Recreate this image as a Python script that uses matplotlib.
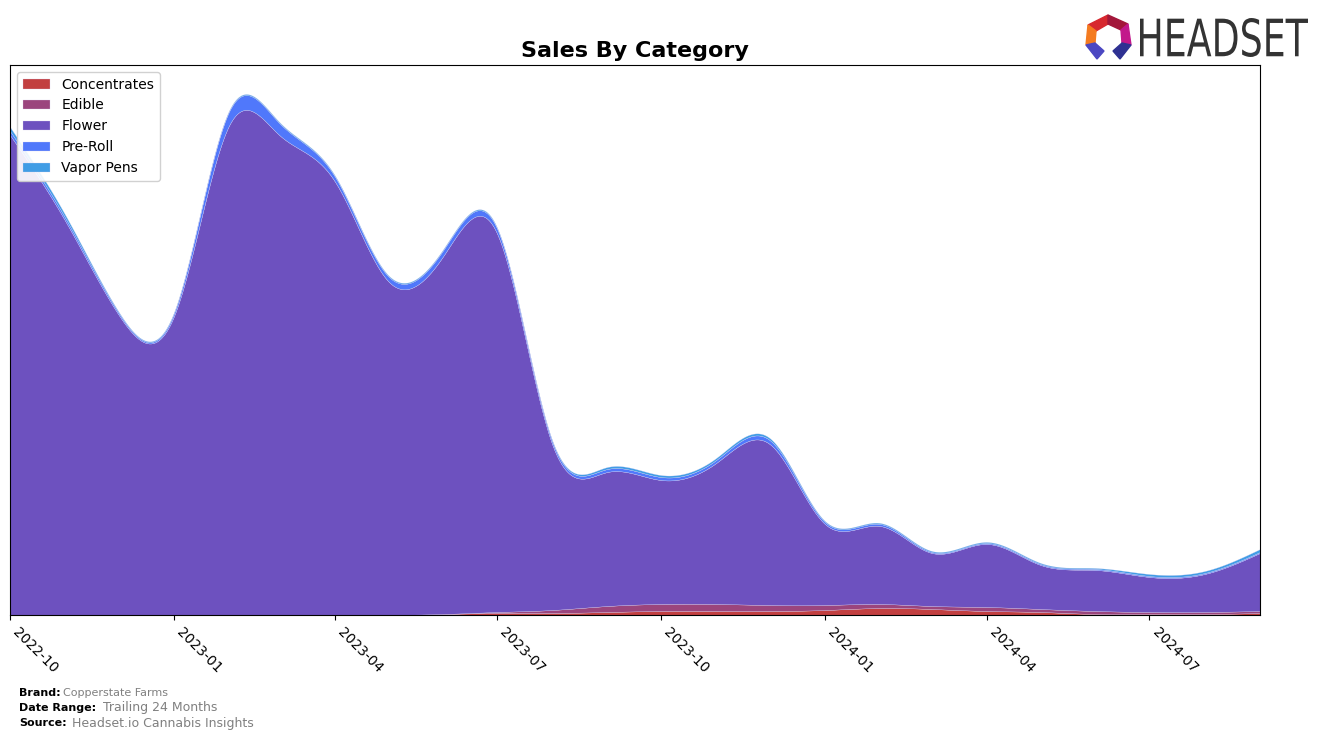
import numpy as np
import pandas as pd
import matplotlib
matplotlib.use("Agg")
import matplotlib.pyplot as plt
import matplotlib.dates as mdates
from matplotlib.patches import Polygon, PathPatch
from matplotlib.textpath import TextPath
from matplotlib.font_manager import FontProperties
from matplotlib.transforms import Affine2D

# monthly sales, Copperstate Farms ($)
months = pd.date_range("2022-10-01", "2024-09-01", freq="MS")
categories = ["Concentrates", "Edible", "Flower", "Pre-Roll", "Vapor Pens"]
colors = ["#C0393A", "#983F79", "#684BBD", "#4A74FB", "#3A9AE5"]

concentrates = [0, 0, 0, 0, 0, 0, 0, 0, 100, 200, 200, 300, 400, 400, 400,
                500, 700, 600, 400, 300, 100, 100, 100, 200]
edible = [0, 0, 0, 0, 0, 0, 0, 0, 0, 100, 300, 600, 700, 700, 600,
          500, 400, 300, 400, 300, 300, 200, 200, 200]
total = [48800, 40000, 30300, 30300, 50500, 49300, 44000, 34000, 36600, 38800,
         17500, 14800, 14000, 15700, 17700, 9400, 9200, 6400, 7300, 5200,
         4700, 4100, 4400, 6600]
pre_roll = [400, 300, 200, 300, 1400, 1200, 500, 500, 600, 500, 300, 300,
            300, 300, 400, 200, 200, 100, 100, 100, 100, 100, 100, 100]
vapor_pens = [400, 300, 100, 100, 100, 100, 100, 100, 100, 100, 100, 200,
              200, 200, 200, 100, 100, 100, 100, 100, 100, 200, 200, 300]
flower = [t - c - e - p - v for t, c, e, p, v in
          zip(total, concentrates, edible, pre_roll, vapor_pens)]


def spline(x, y, xs):
    # natural cubic spline, just for a smooth look between the monthly points
    x = np.asarray(x, float)
    y = np.asarray(y, float)
    n = len(x)
    h = np.diff(x)
    A = np.zeros((n, n))
    b = np.zeros(n)
    A[0, 0] = A[-1, -1] = 1
    for i in range(1, n - 1):
        A[i, i - 1] = h[i - 1]
        A[i, i] = 2 * (h[i - 1] + h[i])
        A[i, i + 1] = h[i]
        b[i] = 3 * ((y[i + 1] - y[i]) / h[i] - (y[i] - y[i - 1]) / h[i - 1])
    c = np.linalg.solve(A, b)
    idx = np.clip(np.searchsorted(x, xs) - 1, 0, n - 2)
    dx = xs - x[idx]
    bb = (y[idx + 1] - y[idx]) / h[idx] - h[idx] * (2 * c[idx] + c[idx + 1]) / 3
    d = (c[idx + 1] - c[idx]) / (3 * h[idx])
    return y[idx] + bb * dx + c[idx] * dx ** 2 + d * dx ** 3


xnum = mdates.date2num(months)
xs = np.linspace(xnum[0], xnum[-1], 800)
series = [concentrates, edible, flower, pre_roll, vapor_pens]
smooth = [np.clip(spline(xnum, s, xs), 0, None) for s in series]

fig = plt.figure(figsize=(13.24, 7.4), dpi=100)
ax = fig.add_axes([10 / 1324, 125 / 740, 1250 / 1324, 550 / 740])
ax.stackplot(mdates.num2date(xs), *smooth, labels=categories, colors=colors,
             alpha=0.97, edgecolor="#d8d0f0", linewidth=0.2)
ax.set_xlim(months[0], months[-1])
ax.set_ylim(0, 55000)
ax.set_yticks([])
ax.xaxis.set_major_locator(mdates.MonthLocator(bymonth=[1, 4, 7, 10]))
ax.xaxis.set_major_formatter(mdates.DateFormatter("%Y-%m"))
plt.setp(ax.get_xticklabels(), rotation=-45, ha="left", fontsize=10)
ax.set_title("Sales By Category", fontsize=16, fontweight="bold")
ax.legend(loc="upper left", fontsize=10, handlelength=2, framealpha=0.9)

# footer
fig.text(19 / 1324, 1 - 693 / 740, "Brand:", fontsize=8, fontweight="bold", va="center")
fig.text(63 / 1324, 1 - 693 / 740, "Copperstate Farms", fontsize=8, color="gray", va="center")
fig.text(19 / 1324, 1 - 708 / 740, "Date Range:", fontsize=8, fontweight="bold", va="center")
fig.text(103 / 1324, 1 - 708 / 740, "Trailing 24 Months", fontsize=9, color="gray", va="center")
fig.text(19 / 1324, 1 - 723 / 740, "Source:", fontsize=8, fontweight="bold", va="center")
fig.text(72 / 1324, 1 - 723 / 740, "Headset.io Cannabis Insights", fontsize=9, color="gray", va="center")

# logo, drawn in pixel coordinates
lg = fig.add_axes([0, 0, 1, 1], zorder=5)
lg.set_xlim(0, 1324)
lg.set_ylim(740, 0)
lg.axis("off")
pieces = [
    ([(1088, 25), (1108, 15), (1108, 24), (1096, 31)], "#D7282F"),
    ([(1108, 15), (1128, 24), (1121, 30), (1108, 24)], "#A3173A"),
    ([(1088, 25), (1096, 31), (1095, 43), (1086, 45)], "#F47B20"),
    ([(1128, 24), (1131, 45), (1122, 43), (1121, 30)], "#C2188B"),
    ([(1086, 45), (1095, 43), (1104, 51), (1097, 59)], "#4B47C2"),
    ([(1131, 45), (1122, 43), (1113, 51), (1120, 59)], "#2E3192"),
]
for pts, col in pieces:
    lg.add_patch(Polygon(pts, closed=True, color=col))
tp = TextPath((0, 0), "HEADSET", size=1, prop=FontProperties(family="DejaVu Sans"))
ext = tp.get_extents()
tr = Affine2D().translate(-ext.x0, -ext.y0).scale(168 / ext.width, -39 / ext.height).translate(1140, 57)
lg.add_patch(PathPatch(tr.transform_path(tp), color="#333333", lw=0))

fig.savefig("out.png", dpi=100)
